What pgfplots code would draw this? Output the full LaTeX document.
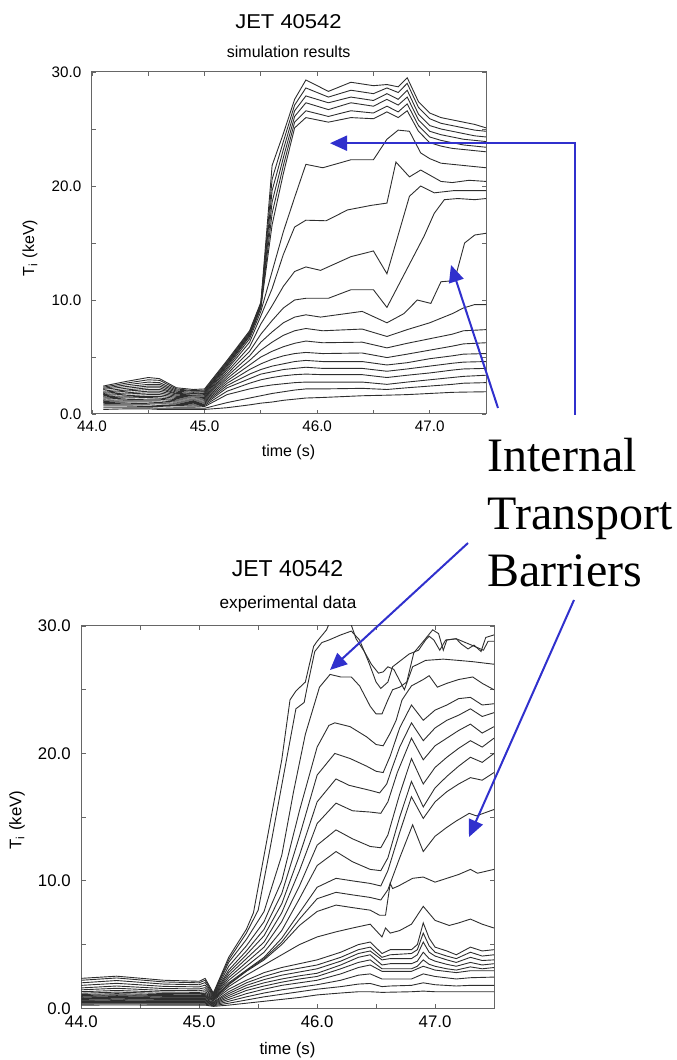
\documentclass[border=0pt]{standalone}
\usepackage{fontspec}
\setmainfont{Liberation Sans}
\newfontfamily\seriffont{Liberation Serif}
\usepackage{pgfplots}
\pgfplotsset{compat=1.18}
\usetikzlibrary{arrows.meta}
\definecolor{arrowblue}{RGB}{48,48,205}
\pgfplotsset{
  jet/.style={scale only axis, anchor=south west,
    xmin=44, xmax=47.5, ymin=0, ymax=30,
    xtick={44,45,46,47}, xticklabels={44.0,45.0,46.0,47.0},
    ytick={0,10,20,30}, yticklabels={0.0,10.0,20.0,30.0},
    minor xtick={44.5,45.5,46.5}, minor ytick={5,15,25},
    tick align=inside, tick pos=both,
    major tick length=2.2pt, minor tick length=2.2pt,
    axis line style={black!60, line width=0.5pt},
    tick style={black!60, line width=0.4pt},
    yticklabel style={xshift=-1.8pt},
    no markers, clip=true},
  ti/.style={black!82, line width=0.45pt},
}
\begin{document}
\begin{tikzpicture}
\path[use as bounding box] (0,0) rectangle (338pt,530pt);
% ---------------- top: simulation ----------------
\begin{axis}[jet, at={(46pt,323pt)}, width=197pt, height=171pt,
  tick label style={font=\fontsize{7.6}{9}\selectfont}]
\addplot[ti] coordinates {(44.1,2.45)(44.3,2.85)(44.5,3.2)(44.6,3.1)(44.75,2.3)(44.9,2.15)(45.0,2.2)(45.2,4.7)(45.4,7.3)(45.5,9.8)(45.6,21.8)(45.7,24.6)(45.8,27.6)(45.9,29.3)(46.1,28.3)(46.3,29.1)(46.5,28.8)(46.62,28.9)(46.72,28.7)(46.8,29.5)(46.9,27.4)(47.0,26.4)(47.1,26.0)(47.2,25.8)(47.3,25.6)(47.4,25.4)(47.5,25.1)};
\addplot[ti] coordinates {(44.1,2.35)(44.3,2.7)(44.5,3.0)(44.6,2.95)(44.75,2.2)(44.9,2.05)(45.0,2.1)(45.2,4.6)(45.4,7.2)(45.5,9.7)(45.6,20.6)(45.7,23.9)(45.8,27.1)(45.9,28.6)(46.1,27.8)(46.3,28.4)(46.5,28.1)(46.62,28.6)(46.72,28.2)(46.8,29.0)(46.9,26.9)(47.0,25.9)(47.1,25.5)(47.2,25.3)(47.3,25.1)(47.4,24.9)(47.5,24.8)};
\addplot[ti] coordinates {(44.1,2.25)(44.3,2.55)(44.5,2.8)(44.6,2.75)(44.75,2.1)(44.9,2.0)(45.0,2.0)(45.2,4.5)(45.4,7.1)(45.5,9.6)(45.6,19.6)(45.7,23.2)(45.8,26.6)(45.9,27.9)(46.1,27.3)(46.3,27.8)(46.5,27.5)(46.62,28.1)(46.72,27.6)(46.8,28.4)(46.9,26.3)(47.0,25.3)(47.1,25.0)(47.2,24.8)(47.3,24.6)(47.4,24.4)(47.5,24.3)};
\addplot[ti] coordinates {(44.1,2.15)(44.3,2.4)(44.5,2.6)(44.6,2.6)(44.75,2.0)(44.9,1.9)(45.0,1.95)(45.2,4.4)(45.4,7.0)(45.5,9.5)(45.6,18.6)(45.7,22.5)(45.8,26.1)(45.9,27.3)(46.1,26.7)(46.3,27.3)(46.5,27.0)(46.62,27.6)(46.72,27.1)(46.8,27.8)(46.9,25.8)(47.0,24.8)(47.1,24.5)(47.2,24.3)(47.3,24.1)(47.4,24.0)(47.5,23.9)};
\addplot[ti] coordinates {(44.1,2.0)(44.3,2.25)(44.5,2.45)(44.6,2.45)(44.75,1.9)(44.9,1.8)(45.0,1.85)(45.2,4.3)(45.4,6.9)(45.5,9.4)(45.6,17.6)(45.7,21.8)(45.8,25.6)(45.9,26.6)(46.1,26.1)(46.3,26.6)(46.5,26.4)(46.62,27.0)(46.72,26.5)(46.8,27.2)(46.9,25.3)(47.0,24.3)(47.1,24.0)(47.2,23.8)(47.3,23.6)(47.4,23.5)(47.5,23.4)};
\addplot[ti] coordinates {(44.1,1.9)(44.3,2.1)(44.5,2.3)(44.6,2.3)(44.75,1.8)(44.9,1.75)(45.0,1.8)(45.2,4.2)(45.4,6.8)(45.5,9.3)(45.6,16.6)(45.7,21.1)(45.8,25.1)(45.9,26.0)(46.1,25.6)(46.3,26.0)(46.5,25.9)(46.62,26.5)(46.72,26.0)(46.8,26.6)(46.9,24.8)(47.0,23.8)(47.1,23.5)(47.2,23.3)(47.3,23.2)(47.4,23.1)(47.5,23.0)};
\addplot[ti] coordinates {(44.1,1.8)(44.3,2.0)(44.5,2.15)(44.6,2.15)(44.75,1.75)(44.9,1.65)(45.0,1.7)(45.2,4.05)(45.4,6.6)(45.5,9.0)(45.6,12.5)(45.7,16.0)(45.8,19.0)(45.9,21.9)(46.05,21.6)(46.3,22.3)(46.5,22.3)(46.62,24.1)(46.72,24.9)(46.82,24.8)(46.92,22.9)(47.0,22.4)(47.1,22.0)(47.2,21.9)(47.3,21.8)(47.4,21.7)(47.5,21.6)};
\addplot[ti] coordinates {(44.1,1.7)(44.3,1.85)(44.5,2.0)(44.6,2.0)(44.75,1.65)(44.9,1.6)(45.0,1.6)(45.2,3.9)(45.4,6.3)(45.5,8.6)(45.6,11.0)(45.7,14.0)(45.8,16.4)(45.9,17.0)(46.08,16.95)(46.27,17.9)(46.48,18.3)(46.62,18.5)(46.7,22.1)(46.82,20.8)(46.92,21.4)(47.1,20.4)(47.2,20.3)(47.35,20.5)(47.5,20.4)};
\addplot[ti] coordinates {(44.1,1.6)(44.3,1.75)(44.5,1.85)(44.6,1.85)(44.75,1.55)(44.9,1.5)(45.0,1.5)(45.2,3.7)(45.4,5.9)(45.5,7.9)(45.6,9.5)(45.7,11.2)(45.8,12.5)(45.9,12.9)(46.03,12.6)(46.3,13.8)(46.5,14.3)(46.62,12.3)(46.82,19.1)(46.92,20.0)(47.04,19.4)(47.22,19.6)(47.5,19.6)};
\addplot[ti] coordinates {(44.1,1.5)(44.3,1.6)(44.5,1.7)(44.6,1.7)(44.75,1.45)(44.9,1.4)(45.0,1.45)(45.2,3.5)(45.4,5.5)(45.5,7.0)(45.6,8.2)(45.7,9.3)(45.8,10.0)(45.9,10.15)(46.1,10.15)(46.3,10.9)(46.5,10.9)(46.62,9.35)(46.95,15.6)(47.04,17.6)(47.13,18.8)(47.25,18.9)(47.4,18.8)(47.5,18.9)};
\addplot[ti] coordinates {(44.1,1.4)(44.3,1.5)(44.5,1.55)(44.6,1.55)(44.75,1.35)(44.9,1.3)(45.0,1.35)(45.2,3.3)(45.4,5.1)(45.5,6.3)(45.6,7.2)(45.7,8.0)(45.8,8.5)(45.9,8.7)(46.03,8.5)(46.4,9.0)(46.62,8.0)(46.77,8.8)(46.89,10.0)(47.01,9.7)(47.1,11.6)(47.22,11.7)(47.31,15.0)(47.4,15.7)(47.5,15.85)};
\addplot[ti] coordinates {(44.1,1.3)(44.3,1.4)(44.5,1.45)(44.6,1.4)(44.75,1.25)(44.9,1.2)(45.0,1.25)(45.2,3.1)(45.4,4.7)(45.5,5.6)(45.6,6.3)(45.7,6.9)(45.8,7.3)(45.9,7.5)(46.05,7.3)(46.4,7.45)(46.62,6.8)(46.8,7.4)(47.0,8.0)(47.2,8.8)(47.3,9.3)(47.4,9.6)(47.5,9.6)};
\addplot[ti] coordinates {(44.1,1.2)(44.3,1.25)(44.5,1.3)(44.6,1.3)(44.75,1.15)(44.9,1.1)(45.0,1.15)(45.2,2.9)(45.4,4.3)(45.5,5.0)(45.6,5.5)(45.7,5.9)(45.8,6.2)(45.9,6.4)(46.05,6.25)(46.4,6.3)(46.62,5.8)(46.8,6.2)(47.0,6.6)(47.2,7.0)(47.3,7.3)(47.5,7.4)};
\addplot[ti] coordinates {(44.1,1.1)(44.3,1.15)(44.5,1.15)(44.6,1.15)(44.75,1.05)(44.9,1.0)(45.0,1.05)(45.2,2.7)(45.4,3.9)(45.5,4.4)(45.6,4.8)(45.7,5.1)(45.8,5.3)(45.9,5.4)(46.05,5.3)(46.4,5.35)(46.62,4.95)(46.8,5.25)(47.0,5.6)(47.2,5.95)(47.3,6.15)(47.5,6.25)};
\addplot[ti] coordinates {(44.1,1.0)(44.3,1.05)(44.5,1.05)(44.6,1.0)(44.75,0.95)(44.9,0.9)(45.0,0.95)(45.2,2.5)(45.4,3.5)(45.5,3.9)(45.6,4.2)(45.7,4.4)(45.8,4.6)(45.9,4.7)(46.05,4.6)(46.4,4.6)(46.62,4.3)(46.8,4.5)(47.0,4.85)(47.2,5.1)(47.3,5.25)(47.5,5.3)};
\addplot[ti] coordinates {(44.1,0.9)(44.3,0.95)(44.5,0.9)(44.6,0.9)(44.75,0.85)(44.9,0.8)(45.0,0.85)(45.2,2.3)(45.4,3.1)(45.5,3.5)(45.6,3.7)(45.7,3.9)(45.8,4.0)(45.9,4.1)(46.05,4.0)(46.4,4.0)(46.62,3.75)(46.8,3.95)(47.0,4.2)(47.2,4.45)(47.3,4.55)(47.5,4.6)};
\addplot[ti] coordinates {(44.1,0.8)(44.3,0.8)(44.5,0.8)(44.6,0.75)(44.75,0.75)(44.9,0.7)(45.0,0.75)(45.2,2.0)(45.4,2.7)(45.5,3.0)(45.6,3.2)(45.7,3.35)(45.8,3.45)(45.9,3.5)(46.05,3.45)(46.4,3.45)(46.62,3.2)(46.8,3.4)(47.0,3.6)(47.2,3.85)(47.3,3.95)(47.5,4.0)};
\addplot[ti] coordinates {(44.1,0.7)(44.3,0.7)(44.5,0.65)(44.6,0.65)(44.75,0.6)(44.9,0.6)(45.0,0.65)(45.2,1.7)(45.4,2.2)(45.5,2.4)(45.6,2.55)(45.7,2.65)(45.8,2.75)(45.9,2.8)(46.05,2.8)(46.4,2.8)(46.62,2.6)(46.8,2.8)(47.0,3.0)(47.2,3.2)(47.3,3.3)(47.5,3.4)};
\addplot[ti] coordinates {(44.1,0.55)(44.3,0.55)(44.5,0.55)(44.6,0.5)(44.75,0.5)(44.9,0.5)(45.0,0.5)(45.2,1.0)(45.4,1.4)(45.5,1.6)(45.6,1.8)(45.7,1.95)(45.8,2.1)(45.9,2.2)(46.05,2.2)(46.4,2.25)(46.62,2.15)(46.8,2.3)(47.0,2.45)(47.2,2.6)(47.3,2.7)(47.5,2.75)};
\addplot[ti] coordinates {(44.1,0.4)(44.3,0.45)(44.5,0.45)(44.6,0.4)(44.75,0.4)(44.9,0.4)(45.0,0.4)(45.2,0.55)(45.4,0.8)(45.5,0.95)(45.6,1.05)(45.7,1.2)(45.8,1.3)(45.9,1.4)(46.05,1.45)(46.4,1.6)(46.62,1.65)(46.8,1.7)(47.0,1.8)(47.2,1.9)(47.3,1.92)(47.5,1.95)};
\end{axis}
% ---------------- bottom: experiment ----------------
\begin{axis}[jet, at={(40.65pt,25.85pt)}, width=206.35pt, height=191.15pt,
  tick label style={font=\fontsize{8.4}{10}\selectfont}]
\addplot[ti] coordinates {(44.0,2.35)(44.3,2.52)(44.7,2.2)(45.0,2.12)(45.05,2.35)(45.12,1.2)(45.25,4.0)(45.4,6.2)(45.46,7.5)(45.6,14.5)(45.7,19.5)(45.77,24.2)(45.82,24.9)(45.9,25.6)(45.97,28.4)(46.0,28.8)(46.08,29.7)(46.12,30.6)(46.27,30.6)(46.33,29.0)(46.4,28.0)(46.46,27.0)(46.52,26.3)(46.56,26.4)(46.6,26.8)(46.65,26.6)(46.74,25.0)(46.81,26.8)(46.92,27.3)(47.07,27.4)(47.2,27.3)(47.32,27.2)(47.5,27.0)};
\addplot[ti] coordinates {(44.0,2.2)(44.3,2.38)(44.7,2.07)(45.0,2.0)(45.05,2.2)(45.12,1.15)(45.25,3.8)(45.4,5.9)(45.5,7.7)(45.6,12.5)(45.7,17.5)(45.82,23.5)(45.89,24.0)(45.92,25.4)(45.98,28.0)(46.04,28.7)(46.1,28.9)(46.2,29.3)(46.29,29.6)(46.36,28.9)(46.44,27.1)(46.5,25.6)(46.54,25.1)(46.6,25.6)(46.64,26.8)(46.78,27.8)(46.86,28.1)(46.92,28.9)(46.95,29.2)(46.99,28.9)(47.04,28.1)(47.09,28.9)(47.18,29.0)(47.22,28.6)(47.28,28.2)(47.33,28.5)(47.39,28.0)(47.43,29.1)(47.5,29.3)};
\addplot[ti] coordinates {(44.0,2.0)(44.3,2.18)(44.7,1.9)(45.0,1.85)(45.05,2.02)(45.12,1.1)(45.25,3.6)(45.4,5.4)(45.55,7.6)(45.7,12.0)(45.8,17.0)(45.9,21.5)(46.02,25.2)(46.11,26.2)(46.2,26.0)(46.29,26.0)(46.36,25.3)(46.45,23.7)(46.5,23.1)(46.55,23.1)(46.6,24.2)(46.64,25.0)(46.7,25.2)(46.76,25.6)(46.82,27.9)(46.91,28.9)(46.98,29.7)(47.03,29.4)(47.07,28.1)(47.1,28.9)(47.18,29.0)(47.31,28.5)(47.41,28.1)(47.45,28.8)(47.5,28.8)};
\addplot[ti] coordinates {(44.0,1.8)(44.3,1.96)(44.7,1.72)(45.0,1.68)(45.05,1.82)(45.12,1.05)(45.25,3.3)(45.4,4.9)(45.55,6.8)(45.7,10.0)(45.85,15.5)(46.0,20.5)(46.1,22.2)(46.15,22.4)(46.28,22.1)(46.42,21.3)(46.5,20.7)(46.56,20.6)(46.62,21.6)(46.67,22.6)(46.72,24.2)(46.8,25.3)(46.9,25.8)(46.95,26.1)(47.02,25.2)(47.1,25.5)(47.2,25.8)(47.32,26.0)(47.4,25.5)(47.5,25.0)};
\addplot[ti] coordinates {(44.0,1.6)(44.3,1.75)(44.7,1.55)(45.0,1.52)(45.05,1.62)(45.12,1.0)(45.25,3.0)(45.4,4.5)(45.55,6.2)(45.7,9.0)(45.85,13.5)(46.0,18.3)(46.15,20.0)(46.28,19.6)(46.42,19.0)(46.5,18.6)(46.56,18.5)(46.62,19.8)(46.7,22.0)(46.8,23.8)(46.9,22.6)(47.0,23.4)(47.1,23.8)(47.2,24.3)(47.3,24.4)(47.4,23.8)(47.5,23.9)};
\addplot[ti] coordinates {(44.0,1.45)(44.3,1.57)(44.7,1.4)(45.0,1.38)(45.05,1.45)(45.12,0.95)(45.25,2.8)(45.4,4.2)(45.55,5.7)(45.7,8.2)(45.85,12.0)(46.0,16.2)(46.16,18.0)(46.27,17.5)(46.45,17.1)(46.53,16.9)(46.59,17.6)(46.63,18.7)(46.7,20.5)(46.8,22.4)(46.9,21.0)(47.0,22.0)(47.1,22.6)(47.2,23.0)(47.3,23.5)(47.4,22.9)(47.5,23.2)};
\addplot[ti] coordinates {(44.0,1.3)(44.3,1.4)(44.7,1.27)(45.0,1.25)(45.05,1.3)(45.12,0.9)(45.25,2.6)(45.4,3.9)(45.55,5.2)(45.7,7.5)(45.85,10.8)(46.0,14.5)(46.16,16.1)(46.3,15.5)(46.45,15.4)(46.54,15.3)(46.6,16.2)(46.68,18.5)(46.8,21.2)(46.9,19.5)(47.0,20.6)(47.1,21.2)(47.2,21.8)(47.3,22.3)(47.4,21.6)(47.5,22.1)};
\addplot[ti] coordinates {(44.0,1.18)(44.3,1.27)(44.7,1.16)(45.0,1.15)(45.05,1.18)(45.12,0.85)(45.25,2.4)(45.4,3.6)(45.55,4.8)(45.7,6.8)(45.85,9.6)(46.0,12.8)(46.16,14.0)(46.3,13.3)(46.45,12.7)(46.54,12.6)(46.6,13.6)(46.7,16.8)(46.8,19.6)(46.9,17.6)(47.0,18.9)(47.1,19.7)(47.2,20.4)(47.3,21.0)(47.4,20.5)(47.5,21.2)};
\addplot[ti] coordinates {(44.0,1.08)(44.3,1.15)(44.7,1.07)(45.0,1.06)(45.05,1.08)(45.12,0.8)(45.25,2.2)(45.4,3.3)(45.55,4.4)(45.7,6.1)(45.85,8.6)(46.0,11.2)(46.16,12.3)(46.3,11.5)(46.45,10.9)(46.54,10.8)(46.6,11.8)(46.7,15.0)(46.8,17.8)(46.9,15.8)(47.0,17.3)(47.1,18.2)(47.2,19.0)(47.3,19.7)(47.4,19.3)(47.5,20.0)};
\addplot[ti] coordinates {(44.0,1.0)(44.3,1.06)(44.7,1.0)(45.0,1.0)(45.05,1.0)(45.12,0.75)(45.25,2.0)(45.4,3.0)(45.55,4.0)(45.7,5.5)(45.85,7.5)(46.0,9.5)(46.16,10.2)(46.3,10.0)(46.45,9.8)(46.54,9.6)(46.6,10.8)(46.7,13.8)(46.8,16.6)(46.9,14.9)(47.0,16.2)(47.1,17.0)(47.2,17.6)(47.3,18.1)(47.4,17.9)(47.5,18.5)};
\addplot[ti] coordinates {(44.0,0.94)(44.3,0.99)(44.7,0.94)(45.0,0.94)(45.05,0.94)(45.12,0.72)(45.25,1.9)(45.4,2.95)(45.55,3.9)(45.7,5.2)(45.85,7.0)(46.0,8.6)(46.16,9.1)(46.3,8.9)(46.45,8.7)(46.54,8.5)(46.6,9.3)(46.7,11.8)(46.81,14.4)(46.9,12.3)(47.0,13.5)(47.1,14.2)(47.18,14.7)(47.29,15.3)(47.35,15.1)(47.5,15.6)};
\addplot[ti] coordinates {(44.0,0.88)(44.3,0.92)(44.7,0.88)(45.0,0.88)(45.05,0.88)(45.12,0.7)(45.25,1.85)(45.4,2.9)(45.55,3.8)(45.7,5.0)(45.85,6.5)(46.0,7.6)(46.16,8.1)(46.3,7.9)(46.45,7.7)(46.53,7.3)(46.58,7.3)(46.62,9.8)(46.64,9.4)(46.69,9.6)(46.81,10.2)(46.9,10.3)(47.0,9.9)(47.1,10.2)(47.2,10.5)(47.3,10.9)(47.36,10.6)(47.5,10.9)};
\addplot[ti] coordinates {(44.0,0.82)(44.3,0.86)(44.7,0.82)(45.0,0.82)(45.05,0.82)(45.12,0.65)(45.25,1.7)(45.4,2.6)(45.55,3.4)(45.7,4.2)(45.85,5.0)(46.0,5.6)(46.16,6.0)(46.3,6.3)(46.45,6.6)(46.55,5.6)(46.58,6.3)(46.62,5.9)(46.7,6.1)(46.8,6.6)(46.9,8.0)(47.0,6.9)(47.12,6.5)(47.2,6.7)(47.3,7.0)(47.4,6.6)(47.5,6.3)};
\addplot[ti] coordinates {(44.0,0.76)(44.3,0.79)(44.7,0.76)(45.0,0.76)(45.05,0.76)(45.12,0.6)(45.25,1.5)(45.4,2.2)(45.55,2.8)(45.7,3.2)(45.85,3.5)(46.0,3.8)(46.2,4.4)(46.35,5.0)(46.45,5.2)(46.55,4.3)(46.62,4.6)(46.8,4.6)(46.85,5.0)(46.9,6.7)(46.95,5.5)(47.0,4.8)(47.1,4.5)(47.18,4.2)(47.3,4.8)(47.4,4.5)(47.5,4.6)};
\addplot[ti] coordinates {(44.0,0.7)(44.3,0.73)(44.7,0.7)(45.0,0.7)(45.05,0.7)(45.12,0.5)(45.25,1.3)(45.4,2.0)(45.55,2.5)(45.7,2.9)(45.85,3.15)(46.0,3.4)(46.2,4.0)(46.35,4.6)(46.45,4.8)(46.55,4.0)(46.62,4.2)(46.8,4.3)(46.85,4.6)(46.9,5.9)(46.95,4.9)(47.0,4.4)(47.1,4.1)(47.18,3.9)(47.3,4.4)(47.4,4.1)(47.5,4.2)};
\addplot[ti] coordinates {(44.0,0.64)(44.3,0.66)(44.7,0.64)(45.0,0.64)(45.05,0.64)(45.12,0.45)(45.25,1.15)(45.4,1.8)(45.55,2.25)(45.7,2.6)(45.85,2.85)(46.0,3.1)(46.2,3.7)(46.35,4.3)(46.45,4.5)(46.55,3.8)(46.62,3.9)(46.8,3.9)(46.85,4.2)(46.9,5.2)(46.95,4.4)(47.0,4.1)(47.1,3.8)(47.18,3.6)(47.3,4.0)(47.4,3.75)(47.5,3.8)};
\addplot[ti] coordinates {(44.0,0.58)(44.3,0.6)(44.7,0.58)(45.0,0.58)(45.05,0.58)(45.12,0.4)(45.25,1.0)(45.4,1.6)(45.55,2.0)(45.7,2.3)(45.85,2.55)(46.0,2.75)(46.2,3.4)(46.35,4.0)(46.45,4.2)(46.55,3.4)(46.62,3.5)(46.8,3.5)(46.85,3.7)(46.9,4.4)(46.95,3.9)(47.0,3.7)(47.1,3.45)(47.18,3.3)(47.3,3.6)(47.4,3.4)(47.5,3.5)};
\addplot[ti] coordinates {(44.0,0.52)(44.3,0.54)(44.7,0.52)(45.0,0.52)(45.05,0.52)(45.12,0.35)(45.25,0.85)(45.4,1.4)(45.55,1.75)(45.7,2.05)(45.85,2.3)(46.0,2.5)(46.2,3.1)(46.35,3.6)(46.45,3.8)(46.55,3.1)(46.62,3.1)(46.8,3.1)(46.85,3.3)(46.9,3.8)(46.95,3.45)(47.0,3.3)(47.1,3.1)(47.18,3.0)(47.3,3.25)(47.4,3.1)(47.5,3.2)};
\addplot[ti] coordinates {(44.0,0.46)(44.3,0.47)(44.7,0.46)(45.0,0.46)(45.05,0.46)(45.12,0.3)(45.25,0.7)(45.4,1.15)(45.55,1.5)(45.7,1.8)(45.85,2.0)(46.0,2.2)(46.2,2.7)(46.35,3.2)(46.45,3.4)(46.55,2.9)(46.62,2.9)(46.8,2.9)(46.9,3.3)(47.0,3.0)(47.18,2.8)(47.3,2.95)(47.5,2.95)};
\addplot[ti] coordinates {(44.0,0.4)(44.3,0.41)(44.7,0.4)(45.0,0.4)(45.05,0.4)(45.12,0.25)(45.25,0.55)(45.4,0.9)(45.55,1.2)(45.7,1.45)(45.85,1.65)(46.0,1.85)(46.2,2.2)(46.35,2.6)(46.45,2.7)(46.55,2.3)(46.62,2.3)(46.8,2.3)(46.9,2.7)(47.0,2.5)(47.18,2.3)(47.3,2.4)(47.5,2.45)};
\addplot[ti] coordinates {(44.0,0.33)(44.3,0.34)(44.7,0.33)(45.0,0.33)(45.05,0.33)(45.12,0.2)(45.25,0.4)(45.4,0.65)(45.55,0.9)(45.7,1.1)(45.85,1.3)(46.0,1.5)(46.2,1.7)(46.35,1.9)(46.45,1.95)(46.55,1.7)(46.62,1.75)(46.8,1.8)(46.9,2.0)(47.0,1.85)(47.18,1.75)(47.3,1.8)(47.5,1.8)};
\addplot[ti] coordinates {(44.0,0.25)(44.3,0.26)(44.7,0.25)(45.0,0.25)(45.05,0.25)(45.12,0.15)(45.25,0.25)(45.4,0.4)(45.55,0.55)(45.7,0.7)(45.85,0.85)(46.0,1.05)(46.2,1.2)(46.35,1.3)(46.45,1.3)(46.55,1.25)(46.8,1.3)(46.9,1.35)(47.0,1.3)(47.18,1.3)(47.3,1.3)(47.5,1.3)};
\end{axis}
% ---------------- titles and labels ----------------
\node at (144.25pt,519.2pt) {\scalebox{1.1}[1]{\fontsize{10}{12}\selectfont JET 40542}};
\node at (144.35pt,504pt) {\fontsize{8}{10}\selectfont simulation results};
\node at (144.25pt,304pt) {\fontsize{8}{10}\selectfont time (s)};
\node[rotate=90] at (15pt,406pt) {\fontsize{8}{10}\selectfont T\textsubscript{i} (keV)};
\node at (143.75pt,245.7pt) {\fontsize{11.5}{13}\selectfont JET 40542};
\node at (144pt,228pt) {\fontsize{8.6}{10}\selectfont experimental data};
\node at (143.75pt,4.8pt) {\fontsize{8.4}{10}\selectfont time (s)};
\node[rotate=90] at (8.5pt,120pt) {\fontsize{8.4}{10}\selectfont T\textsubscript{i} (keV)};
% ---------------- annotation ----------------
\node[anchor=base west, inner sep=0pt] at (243.5pt,294.2pt) {\seriffont\fontsize{24}{28}\selectfont Internal};
\node[anchor=base west, inner sep=0pt] at (243.5pt,265pt) {\seriffont\fontsize{24}{28}\selectfont Transport};
\node[anchor=base west, inner sep=0pt] at (243.5pt,236.7pt) {\seriffont\fontsize{24}{28}\selectfont Barriers};
\begin{scope}[draw=arrowblue, line width=1pt, -{Triangle[length=8.5pt,width=7.5pt]}]
\draw[arrowblue] (287.5pt,322.5pt) -- (287.5pt,458.4pt) -- (165pt,458.4pt);
\draw[arrowblue] (249pt,326pt) -- (225.5pt,397.5pt);
\draw[arrowblue] (234pt,258.5pt) -- (165pt,195pt);
\draw[arrowblue] (287pt,230pt) -- (234.5pt,111.5pt);
\end{scope}
\end{tikzpicture}
\end{document}
